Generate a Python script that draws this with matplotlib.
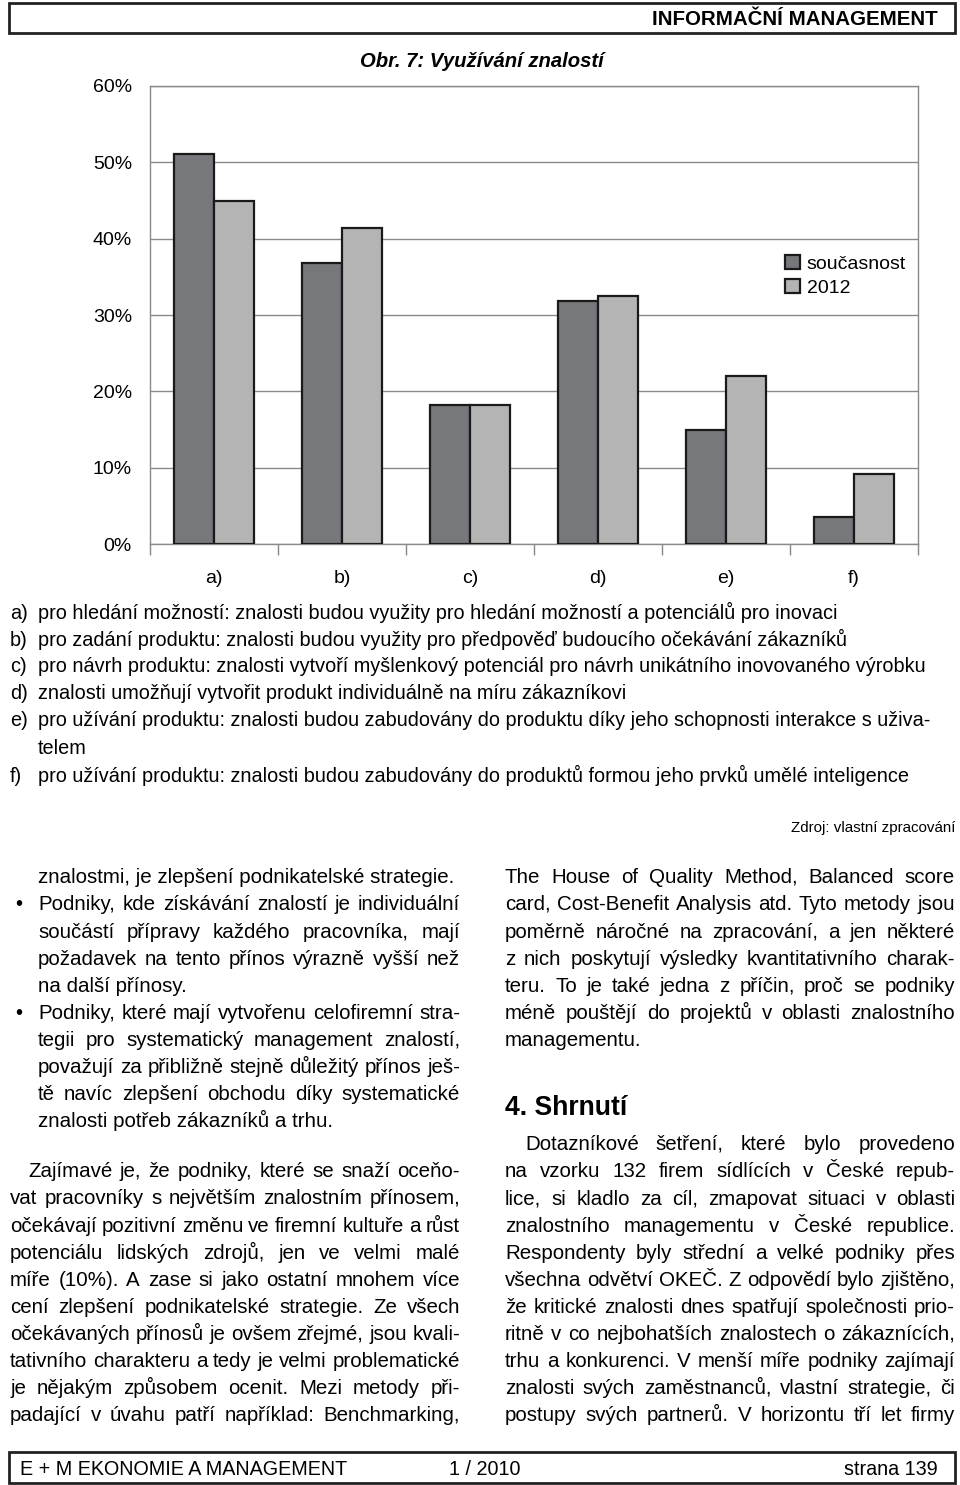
import numpy as np
import matplotlib
matplotlib.use('Agg')
import matplotlib.pyplot as plt
from matplotlib.patches import Rectangle
from matplotlib.font_manager import FontProperties
from matplotlib.backends.backend_agg import get_hinting_flag

# chart data (percent of firms)
categories = ['a)', 'b)', 'c)', 'd)', 'e)', 'f)']
soucasnost = [51.1, 36.8, 18.2, 31.8, 14.9, 3.5]
rok_2012 = [44.9, 41.4, 18.2, 32.5, 22.0, 9.2]
y_ticks = [0, 10, 20, 30, 40, 50, 60]
series_names = ['současnost', '2012']

# explanation of the categories below the chart
legend_lines = [
    ('a)', 'pro hledání možností: znalosti budou využity pro hledání možností a potenciálů pro inovaci'),
    ('b)', 'pro zadání produktu: znalosti budou využity pro předpověď budoucího očekávání zákazníků'),
    ('c)', 'pro návrh produktu: znalosti vytvoří myšlenkový potenciál pro návrh unikátního inovovaného výrobku'),
    ('d)', 'znalosti umožňují vytvořit produkt individuálně na míru zákazníkovi'),
    ('e)', 'pro užívání produktu: znalosti budou zabudovány do produktu díky jeho schopnosti interakce s uživa-'),
    ('', 'telem'),
    ('f)', 'pro užívání produktu: znalosti budou zabudovány do produktů formou jeho prvků umělé inteligence'),
]

left_bullets = [
    'znalostmi, je zlepšení podnikatelské strategie.',
    'Podniky, kde získávání znalostí je individuální',
    'součástí přípravy každého pracovníka, mají',
    'požadavek na tento přínos výrazně vyšší než',
    'na další přínosy.',
    'Podniky, které mají vytvořenu celofiremní stra-',
    'tegii pro systematický management znalostí,',
    'považují za přibližně stejně důležitý přínos ješ-',
    'tě navíc zlepšení obchodu díky systematické',
    'znalosti potřeb zákazníků a trhu.',
]
left_para = [
    'Zajímavé je, že podniky, které se snaží oceňo-',
    'vat pracovníky s největším znalostním přínosem,',
    'očekávají pozitivní změnu ve firemní kultuře a růst',
    'potenciálu lidských zdrojů, jen ve velmi malé',
    'míře (10%). A zase si jako ostatní mnohem více',
    'cení zlepšení podnikatelské strategie. Ze všech',
    'očekávaných přínosů je ovšem zřejmé, jsou kvali-',
    'tativního charakteru a tedy je velmi problematické',
    'je nějakým způsobem ocenit. Mezi metody při-',
    'padající v úvahu patří například: Benchmarking,',
]
right_top = [
    'The House of Quality Method, Balanced score',
    'card, Cost-Benefit Analysis atd. Tyto metody jsou',
    'poměrně náročné na zpracování, a jen některé',
    'z nich poskytují výsledky kvantitativního charak-',
    'teru. To je také jedna z příčin, proč se podniky',
    'méně pouštějí do projektů v oblasti znalostního',
    'managementu.',
]
right_para = [
    'Dotazníkové šetření, které bylo provedeno',
    'na vzorku 132 firem sídlících v České repub-',
    'lice, si kladlo za cíl, zmapovat situaci v oblasti',
    'znalostního managementu v České republice.',
    'Respondenty byly střední a velké podniky přes',
    'všechna odvětví OKEČ. Z odpovědí bylo zjištěno,',
    'že kritické znalosti dnes spatřují společnosti prio-',
    'ritně v co nejbohatších znalostech o zákaznících,',
    'trhu a konkurenci. V menší míře podniky zajímají',
    'znalosti svých zaměstnanců, vlastní strategie, či',
    'postupy svých partnerů. V horizontu tří let firmy',
]

W, H = 960, 1485
SANS = ['Liberation Sans', 'DejaVu Sans']
plt.rcParams['font.family'] = SANS

fig = plt.figure(figsize=(W / 100, H / 100), dpi=100)
renderer = fig.canvas.get_renderer()


def X(px):
    return px / W


def Y(py):
    return 1 - py / H


def prop_for(size, weight='normal', style='normal'):
    return FontProperties(family=SANS, size=size, weight=weight, style=style)


def text_w(s, size, weight='normal', style='normal'):
    w, h, d = renderer.get_text_width_height_descent(
        s, prop_for(size, weight, style), ismath=False)
    return w


def fit(s, width, weight='normal', style='normal'):
    # font size that makes the string as wide as in the scan
    return 10 * width / text_w(s, 10, weight, style)


def snapped_base(s, target, size, weight, style):
    # Agg rounds each string's bitmap by its own ink box, which makes separate
    # words of one line jump by a pixel; pick the y that lands on the target row
    font = renderer._prepare_font(prop_for(size, weight, style))
    font.set_text(s, 0, flags=get_hinting_flag())
    wh, hh = font.get_width_height()
    d = font.get_descent()
    ymax = (hh - d) / 64.0
    dd = d / 64.0
    return target + (hh // 64) - np.floor(ymax) - dd


def put(x, y, s, size, weight='normal', style='normal', **kw):
    # y is the middle of the capitals; the baseline sits below it
    target = round(y + 0.36 * size * 100 / 72)
    base = snapped_base(s, target, size, weight, style)
    fig.text(X(x), Y(base), s, fontsize=size, va='baseline', weight=weight,
             style=style, **kw)


def justify(line, x0, x1, y, size, fill=True):
    words = line.split(' ')
    if not fill or len(words) == 1:
        put(x0, y, line, size)
        return
    widths = [text_w(w, size) for w in words]
    gap = (x1 - x0 - sum(widths)) / (len(words) - 1)
    x = x0
    for w, wd in zip(words, widths):
        put(x, y, w, size)
        x += wd + gap


# header and footer boxes
for y0, y1 in [(3, 33), (1452, 1483)]:
    fig.patches.append(Rectangle((X(9), Y(y1)), X(955) - X(9), Y(y0) - Y(y1),
                                 transform=fig.transFigure, fill=False,
                                 lw=2.0, edgecolor='#222222'))
put(938, 18, 'INFORMAČNÍ MANAGEMENT', 14.8, weight='bold', ha='right')
foot = 14.2
put(20, 1468, 'E + M EKONOMIE A MANAGEMENT', foot, ha='left')
put(485, 1468, '1 / 2010', foot, ha='center')
put(938, 1468, 'strana 139', foot, ha='right')

# chart
put(482, 60, 'Obr. 7: Využívání znalostí', 14.6, weight='bold', style='italic',
    ha='center')

ax = fig.add_axes([X(150), Y(544), X(918) - X(150), (544 - 86) / H])
x = np.arange(len(categories))
bw = 0.31
ax.bar(x - bw / 2, soucasnost, bw, color='#77787c', edgecolor='#1a1a1a',
       linewidth=1.6, label=series_names[0], zorder=3)
ax.bar(x + bw / 2, rok_2012, bw, color='#b4b4b4', edgecolor='#1a1a1a',
       linewidth=1.6, label=series_names[1], zorder=3)

ax.set_xlim(-0.5, len(categories) - 0.5)
ax.set_ylim(0, 60)
ax.set_yticks(y_ticks, [f'{v}%' for v in y_ticks])
ax.set_xticks(x, categories)
ax.set_xticks(np.arange(-0.5, len(categories), 1), minor=True)
ax.tick_params(axis='y', length=0, pad=13, labelsize=14)
ax.tick_params(axis='x', which='major', length=0, pad=19, labelsize=14)
ax.tick_params(axis='x', which='minor', length=8, width=1, color='#888888')
ax.grid(axis='y', color='#8a8a8a', linewidth=1.0, zorder=0)
for side in ['top', 'right', 'left', 'bottom']:
    ax.spines[side].set_color('#8a8a8a')
    ax.spines[side].set_linewidth(1.0)

ax.legend(loc='upper left', bbox_to_anchor=(X(767), Y(237)),
          bbox_transform=fig.transFigure, frameon=False, fontsize=14,
          handlelength=0.8, handleheight=0.8, handletextpad=0.35,
          labelspacing=0.3)

# category descriptions
desc_size = fit(legend_lines[0][1], 797)
for i, (lab, line) in enumerate(legend_lines):
    yy = [612, 639, 665, 692, 719, 747, 775][i]
    if lab:
        put(10, yy, lab, desc_size)
    put(38, yy, line, desc_size)

put(955, 827, 'Zdroj: vlastní zpracování', fit('Zdroj: vlastní zpracování', 165),
    ha='right')

# two text columns
body = fit(left_bullets[0], 417)
lead = 27.1
for i, line in enumerate(left_bullets):
    yy = 876 + i * lead
    if i in (1, 5):
        put(15, yy, '•', body)
    last = i in (0, 4, 9)
    justify(line, 38, 460, yy, body, fill=not last)

for i, line in enumerate(left_para):
    yy = 1170 + i * lead
    x0 = 28 if i == 0 else 10
    justify(line, x0, 460, yy, body)

for i, line in enumerate(right_top):
    yy = 876 + i * lead
    justify(line, 505, 955, yy, body, fill=i < len(right_top) - 1)

put(505, 1105, '4. Shrnutí', fit('4. Shrnutí', 123, weight='bold'), weight='bold')

for i, line in enumerate(right_para):
    yy = 1143 + i * lead
    x0 = 525 if i == 0 else 505
    justify(line, x0, 955, yy, body)

fig.savefig('out.png', dpi=100)
